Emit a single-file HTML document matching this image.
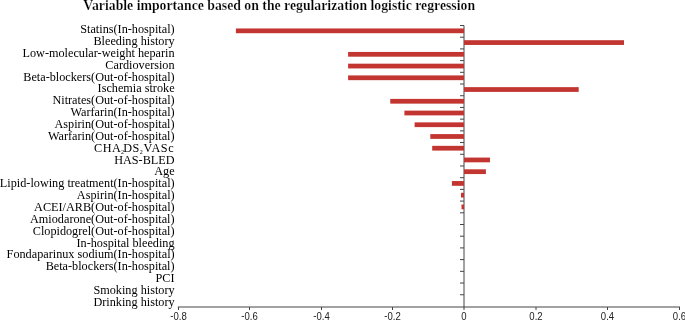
<!DOCTYPE html>
<html><head><meta charset="utf-8"><style>
html,body{margin:0;padding:0;background:#fff;}
body{width:685px;height:320px;overflow:hidden;}
svg{display:block;will-change:transform;}
.lb{font-family:"Liberation Serif",serif;font-size:12.22px;fill:#000;}
.tk{font-family:"Liberation Sans",sans-serif;font-size:10.3px;fill:#222;}
.tt{font-family:"Liberation Serif",serif;font-size:13.75px;font-weight:bold;fill:#000;stroke:#fff;stroke-width:0.2px;}
</style></head><body>
<svg width="685" height="320" viewBox="0 0 685 320">
<text class="tt" x="83.3" y="9.8">Variable importance based on the regularization logistic regression</text>
<text class="lb" x="174.6" y="33.15" text-anchor="end">Statins(In-hospital)</text>
<text class="lb" x="174.6" y="45.01" text-anchor="end">Bleeding history</text>
<text class="lb" x="174.6" y="56.87" text-anchor="end">Low-molecular-weight heparin</text>
<text class="lb" x="174.6" y="68.73" text-anchor="end">Cardioversion</text>
<text class="lb" x="174.6" y="80.59" text-anchor="end">Beta-blockers(Out-of-hospital)</text>
<text class="lb" x="174.6" y="92.45" text-anchor="end">Ischemia stroke</text>
<text class="lb" x="174.6" y="104.31" text-anchor="end">Nitrates(Out-of-hospital)</text>
<text class="lb" x="174.6" y="116.17" text-anchor="end">Warfarin(In-hospital)</text>
<text class="lb" x="174.6" y="128.03" text-anchor="end">Aspirin(Out-of-hospital)</text>
<text class="lb" x="174.6" y="139.89" text-anchor="end">Warfarin(Out-of-hospital)</text>
<text class="lb" y="151.75"><tspan x="93.96" textLength="26.9" lengthAdjust="spacing">CHA</tspan><tspan x="121.0" dy="2.2" font-size="6">2</tspan><tspan x="123.3" dy="-2.2" textLength="15.9" lengthAdjust="spacing">DS</tspan><tspan x="139.8" dy="2.2" font-size="6">2</tspan><tspan x="143.6" dy="-2.2" textLength="30.1" lengthAdjust="spacing">VASc</tspan></text>
<text class="lb" x="174.6" y="163.61" text-anchor="end">HAS-BLED</text>
<text class="lb" x="174.6" y="175.47" text-anchor="end">Age</text>
<text class="lb" x="174.6" y="187.33" text-anchor="end">Lipid-lowing treatment(In-hospital)</text>
<text class="lb" x="174.6" y="199.19" text-anchor="end">Aspirin(In-hospital)</text>
<text class="lb" x="174.6" y="211.05" text-anchor="end">ACEI/ARB(Out-of-hospital)</text>
<text class="lb" x="174.6" y="222.91" text-anchor="end">Amiodarone(Out-of-hospital)</text>
<text class="lb" x="174.6" y="234.77" text-anchor="end">Clopidogrel(Out-of-hospital)</text>
<text class="lb" x="174.6" y="246.63" text-anchor="end">In-hospital bleeding</text>
<text class="lb" x="174.6" y="258.49" text-anchor="end">Fondaparinux sodium(In-hospital)</text>
<text class="lb" x="174.6" y="270.35" text-anchor="end">Beta-blockers(In-hospital)</text>
<text class="lb" x="174.6" y="282.21" text-anchor="end">PCI</text>
<text class="lb" x="174.6" y="294.07" text-anchor="end">Smoking history</text>
<text class="lb" x="174.6" y="305.93" text-anchor="end">Drinking history</text>
<line x1="464" y1="25.5" x2="464" y2="307.5" stroke="#444" stroke-width="1"/>
<line x1="177.8" y1="307" x2="680" y2="307" stroke="#444" stroke-width="1"/>
<line x1="460" y1="25.50" x2="464" y2="25.50" stroke="#444" stroke-width="1"/>
<line x1="460" y1="37.21" x2="464" y2="37.21" stroke="#444" stroke-width="1"/>
<line x1="460" y1="48.91" x2="464" y2="48.91" stroke="#444" stroke-width="1"/>
<line x1="460" y1="60.62" x2="464" y2="60.62" stroke="#444" stroke-width="1"/>
<line x1="460" y1="72.32" x2="464" y2="72.32" stroke="#444" stroke-width="1"/>
<line x1="460" y1="84.03" x2="464" y2="84.03" stroke="#444" stroke-width="1"/>
<line x1="460" y1="95.74" x2="464" y2="95.74" stroke="#444" stroke-width="1"/>
<line x1="460" y1="107.44" x2="464" y2="107.44" stroke="#444" stroke-width="1"/>
<line x1="460" y1="119.15" x2="464" y2="119.15" stroke="#444" stroke-width="1"/>
<line x1="460" y1="130.85" x2="464" y2="130.85" stroke="#444" stroke-width="1"/>
<line x1="460" y1="142.56" x2="464" y2="142.56" stroke="#444" stroke-width="1"/>
<line x1="460" y1="154.27" x2="464" y2="154.27" stroke="#444" stroke-width="1"/>
<line x1="460" y1="165.97" x2="464" y2="165.97" stroke="#444" stroke-width="1"/>
<line x1="460" y1="177.68" x2="464" y2="177.68" stroke="#444" stroke-width="1"/>
<line x1="460" y1="189.38" x2="464" y2="189.38" stroke="#444" stroke-width="1"/>
<line x1="460" y1="201.09" x2="464" y2="201.09" stroke="#444" stroke-width="1"/>
<line x1="460" y1="212.80" x2="464" y2="212.80" stroke="#444" stroke-width="1"/>
<line x1="460" y1="224.50" x2="464" y2="224.50" stroke="#444" stroke-width="1"/>
<line x1="460" y1="236.21" x2="464" y2="236.21" stroke="#444" stroke-width="1"/>
<line x1="460" y1="247.91" x2="464" y2="247.91" stroke="#444" stroke-width="1"/>
<line x1="460" y1="259.62" x2="464" y2="259.62" stroke="#444" stroke-width="1"/>
<line x1="460" y1="271.33" x2="464" y2="271.33" stroke="#444" stroke-width="1"/>
<line x1="460" y1="283.03" x2="464" y2="283.03" stroke="#444" stroke-width="1"/>
<line x1="460" y1="294.74" x2="464" y2="294.74" stroke="#444" stroke-width="1"/>
<line x1="178.5" y1="307" x2="178.5" y2="310" stroke="#444" stroke-width="1"/>
<text class="tk" x="178.5" y="319.8" text-anchor="middle" transform="translate(178.5 0) scale(0.93 1) translate(-178.5 0)"><tspan dy="-0.9">-</tspan><tspan dy="0.9">0.8</tspan></text>
<line x1="249.5" y1="307" x2="249.5" y2="310" stroke="#444" stroke-width="1"/>
<text class="tk" x="249.5" y="319.8" text-anchor="middle" transform="translate(249.5 0) scale(0.93 1) translate(-249.5 0)"><tspan dy="-0.9">-</tspan><tspan dy="0.9">0.6</tspan></text>
<line x1="321.5" y1="307" x2="321.5" y2="310" stroke="#444" stroke-width="1"/>
<text class="tk" x="321.5" y="319.8" text-anchor="middle" transform="translate(321.5 0) scale(0.93 1) translate(-321.5 0)"><tspan dy="-0.9">-</tspan><tspan dy="0.9">0.4</tspan></text>
<line x1="392.5" y1="307" x2="392.5" y2="310" stroke="#444" stroke-width="1"/>
<text class="tk" x="392.5" y="319.8" text-anchor="middle" transform="translate(392.5 0) scale(0.93 1) translate(-392.5 0)"><tspan dy="-0.9">-</tspan><tspan dy="0.9">0.2</tspan></text>
<line x1="464" y1="307" x2="464" y2="310" stroke="#444" stroke-width="1"/>
<text class="tk" x="464" y="319.8" text-anchor="middle" transform="translate(464 0) scale(0.93 1) translate(-464 0)">0</text>
<line x1="536" y1="307" x2="536" y2="310" stroke="#444" stroke-width="1"/>
<text class="tk" x="536" y="319.8" text-anchor="middle" transform="translate(536 0) scale(0.93 1) translate(-536 0)">0.2</text>
<line x1="607.5" y1="307" x2="607.5" y2="310" stroke="#444" stroke-width="1"/>
<text class="tk" x="607.5" y="319.8" text-anchor="middle" transform="translate(607.5 0) scale(0.93 1) translate(-607.5 0)">0.4</text>
<line x1="679.5" y1="307" x2="679.5" y2="310" stroke="#444" stroke-width="1"/>
<text class="tk" x="679.5" y="319.8" text-anchor="middle" transform="translate(679.5 0) scale(0.93 1) translate(-679.5 0)">0.6</text>
<rect x="235.9" y="28.46" width="228.10" height="4.75" fill="#c23531"/>
<rect x="464" y="40.20" width="160.00" height="4.75" fill="#c23531"/>
<rect x="348.1" y="51.94" width="115.90" height="4.75" fill="#c23531"/>
<rect x="348.1" y="63.68" width="115.90" height="4.75" fill="#c23531"/>
<rect x="348.1" y="75.41" width="115.90" height="4.75" fill="#c23531"/>
<rect x="464" y="87.15" width="114.70" height="4.75" fill="#c23531"/>
<rect x="390.25" y="98.89" width="73.75" height="4.75" fill="#c23531"/>
<rect x="404.4" y="110.62" width="59.60" height="4.75" fill="#c23531"/>
<rect x="414.6" y="122.36" width="49.40" height="4.75" fill="#c23531"/>
<rect x="430.3" y="134.10" width="33.70" height="4.75" fill="#c23531"/>
<rect x="432.2" y="145.84" width="31.80" height="4.75" fill="#c23531"/>
<rect x="464" y="157.57" width="26.00" height="4.75" fill="#c23531"/>
<rect x="464" y="169.31" width="21.90" height="4.75" fill="#c23531"/>
<rect x="451.9" y="181.05" width="12.10" height="4.75" fill="#c23531"/>
<rect x="461" y="192.78" width="3.00" height="4.75" fill="#c23531"/>
<rect x="461.5" y="204.52" width="2.50" height="4.75" fill="#c23531"/>
</svg></body></html>
